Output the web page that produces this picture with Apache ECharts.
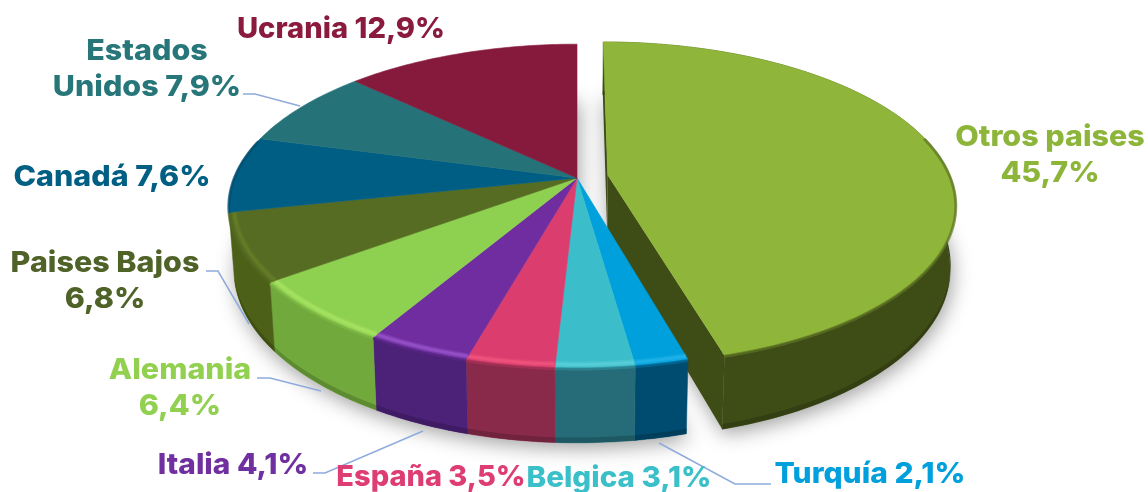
<!DOCTYPE html>
<html>
<head>
<meta charset="utf-8">
<style>html,body{margin:0;padding:0;background:#fff}#c{width:1148px;height:492px}</style>
<script src="https://cdn.jsdelivr.net/npm/echarts@6/dist/echarts.min.js"></script>
</head>
<body>
<div id="c"></div>
<script>
// --- data (clockwise from 12 o'clock) ---
const categories = ['Otros paises','Turquía','Belgica','España','Italia','Alemania','Paises Bajos','Canadá','Estados Unidos','Ucrania'];
const shares = [45.7,2.1,3.1,3.5,4.1,6.4,6.8,7.6,7.9,12.9];
const labelLines = ['Otros paises\n45,7%','Turquía 2,1%','Belgica 3,1%','España 3,5%','Italia 4,1%','Alemania\n6,4%','Paises Bajos\n6,8%','Canadá 7,6%','Estados\nUnidos 7,9%','Ucrania 12,9%'];
// --- styles ---
const topColors  = ['#8FB63A','#00A0DC','#3BBEC9','#DA3D6E','#6F2DA0','#8ED150','#566C22','#005E84','#257379','#861A3C'];
const wallColors = ['#3E4C16','#004C70','#256B78','#8A2A4A','#4C2178','#72A93C','#4C6018','#004060','#1B5358','#5D122A'];
const rimColors  = ['#8FB63A','#25B4EA','#5CD0DA','#F2557F','#9A55CC','#A9E463','#667F28','#005E84','#257379','#861A3C'];
const textColors = ['#8DB53A','#00A0DC','#3BBFC9','#DD3D72','#7030A0','#92D050','#4F6228','#005F82','#26767A','#8A1A3E'];
// --- layout ---
const labelX = [1050,870,619,431,233,180,105,112,147,341];
const labelY = [155,474,478,477,465,388,281,177,69,29];
const labelStretch = [1.05,1.035,1.02,1.0,1.03,1.05,1.05,1.05,1.05,1.005];
const leaders = [
  [[243,94],[255,94],[300,106]],
  [[206,271],[218,271],[249,324]],
  [[257,378],[270,378],[321,391]],
  [[313,473],[325,473],[423,431]],
  [[659,443],[735,484],[771,484]]
];
const CX=577, CY=178, R=343, S=157, K=0.173, D=62, SHRINK=0.985;
const explodeU=0.09, explodeV=-0.019, explodedIndex=0;
const LAST_WALL_START=1.43*Math.PI;

const total = shares.reduce((a,b)=>a+b,0);
const starts=[]; shares.reduce((acc,v,i)=>{starts[i]=acc;return acc+v;},0);
const toAngle = s => s/total*2*Math.PI;

function topPt(r,th,ex){
  const u=r*Math.sin(th)+(ex?explodeU:0), v=-r*Math.cos(th)+(ex?explodeV:0);
  const w=1-K*v; return [CX+R*u/w, CY+S*v/w, w];
}
function lowPt(r,th,ex,t){
  const p=topPt(r,th,ex);
  return [CX+(p[0]-CX)*(1-(1-SHRINK)*t), p[1]+t*D/p[2]];
}
function arc(a0,a1,fn){
  const out=[], n=Math.max(2,Math.ceil((a1-a0)/(Math.PI/180)));
  for(let i=0;i<=n;i++) out.push(fn(a0+(a1-a0)*i/n));
  return out;
}
const xy=p=>[p[0],p[1]];
function sectorTop(a0,a1,ex,r){
  return [xy(topPt(0,0,ex))].concat(arc(a0,a1,a=>xy(topPt(r||1,a,ex))));
}
function sectorLow(a0,a1,ex){
  return [lowPt(0,0,ex,1)].concat(arc(a0,a1,a=>lowPt(1,a,ex,1)));
}
function wallBand(a0,a1,ex,t0,t1){
  return arc(a0,a1,a=>lowPt(1,a,ex,t0)).concat(arc(a0,a1,a=>lowPt(1,a,ex,t1)).reverse());
}
function radialFace(a,ex){
  return [lowPt(0,a,ex,0),lowPt(1,a,ex,0),lowPt(1,a,ex,1),lowPt(0,a,ex,1)];
}
function mix(c1,c2,t){
  const h=c=>[1,3,5].map(i=>parseInt(c.substr(i,2),16));
  const a=h(c1),b=h(c2);
  return 'rgb('+a.map((x,i)=>Math.round(x+(b[i]-x)*t)).join(',')+')';
}
function range(i){
  const a0=toAngle(starts[i]), a1=toAngle(starts[i]+shares[i]);
  return [a0,a1];
}
const data = shares.map((v,i)=>({name:categories[i],value:v}));

function renderShadow(params){
  const i=params.dataIndex;
  if(i>1) return null;
  const ex=i===explodedIndex;
  const a=ex?range(0):[range(0)[1],2*Math.PI];
  return {type:'polygon',shape:{points:sectorLow(a[0],a[1],ex)},
    style:{fill:'#ddd',shadowBlur:20,shadowOffsetY:5,shadowOffsetX:2,shadowColor:'rgba(0,0,0,0.38)'}};
}
function renderWall(params){
  const i=params.dataIndex, ex=i===explodedIndex, [a0,a1]=range(i);
  if(a0>LAST_WALL_START) return null;
  const children=[];
  if(ex){
    children.push({type:'polygon',shape:{points:radialFace(a0,ex)},style:{fill:wallColors[i]}});
    children.push({type:'polygon',shape:{points:radialFace(a1,ex)},style:{fill:wallColors[i]}});
  }
  children.push({type:'polygon',shape:{points:wallBand(a0,a1,ex,0,1)},style:{fill:wallColors[i],stroke:wallColors[i],lineWidth:0.5}});
  children.push({type:'polygon',shape:{points:wallBand(a0,a1,ex,0.93,1)},style:{fill:mix(wallColors[i],'#000000',0.18)}});
  return {type:'group',children};
}
function renderTop(params){
  const i=params.dataIndex, ex=i===explodedIndex, [a0,a1]=range(i);
  const children=[];
  children.push({type:'polygon',shape:{points:sectorTop(a0,a1,ex)},style:{fill:topColors[i],stroke:topColors[i],lineWidth:0.6}});
  // soft bevel along the front of the rim
  const cut=Math.PI*0.42;
  const fa0=Math.max(a0,cut), fa1=Math.min(a1,2*Math.PI-cut);
  if(fa1>fa0){
    const edge=arc(fa0,fa1,a=>xy(lowPt(1,a,ex,0.015)));
    const inner=arc(fa0,fa1,a=>xy(topPt(0.985,a,ex)));
    children.push({type:'polyline',shape:{points:inner},style:{fill:null,stroke:rimColors[i],lineWidth:6,opacity:0.35,lineCap:'butt'}});
    children.push({type:'polyline',shape:{points:inner},style:{fill:null,stroke:rimColors[i],lineWidth:3,opacity:0.7,lineCap:'butt'}});
    children.push({type:'polyline',shape:{points:edge},style:{fill:null,stroke:mix(topColors[i],wallColors[i],0.6),lineWidth:3,opacity:0.7,lineCap:'butt'}});
  }
  return {type:'group',children};
}
function renderLabel(params){
  const i=params.dataIndex;
  return {type:'text',x:labelX[i],y:labelY[i],scaleX:labelStretch[i],
    style:{text:labelLines[i],x:0,y:0,textAlign:'center',textVerticalAlign:'middle',
    fill:textColors[i],font:'800 29px Inter, "Open Sans", sans-serif',lineHeight:36}};
}
const chart=echarts.init(document.getElementById('c'),null,{width:1148,height:492});
const common={type:'custom',coordinateSystem:'none',data,animation:false,silent:true};
chart.setOption({
  animation:false,
  backgroundColor:'#ffffff',
  series:[
    Object.assign({},common,{name:'sombra',z:1,renderItem:renderShadow}),
    Object.assign({},common,{name:'paredes',z:2,renderItem:renderWall}),
    Object.assign({},common,{name:'superficie',z:3,renderItem:renderTop}),
    Object.assign({},common,{name:'etiquetas',z:5,renderItem:renderLabel})
  ],
  graphic:leaders.map(p=>({type:'polyline',z:4,silent:true,shape:{points:p},style:{fill:null,stroke:'#8FAADC',lineWidth:1.5}}))
});
</script>
</body>
</html>
